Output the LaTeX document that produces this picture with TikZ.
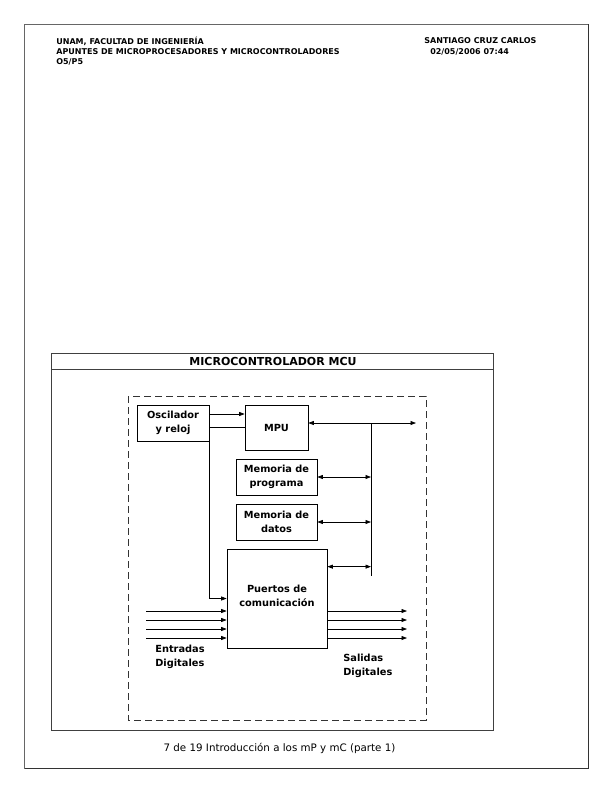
\documentclass[tikz,border=0pt]{standalone}
\usepackage{fontspec}
\setmainfont{DejaVu Sans}
\usetikzlibrary{arrows.meta}

\tikzset{
  bloque/.style={draw, inner sep=0pt, align=center,
    font=\bfseries\fontsize{9.8}{14}\selectfont},
  etiqueta/.style={inner sep=0pt, align=left,
    font=\bfseries\fontsize{9.8}{14}\selectfont},
  encabezado/.style={inner sep=0pt, anchor=west,
    font=\bfseries\fontsize{8}{10}\selectfont}
}

\begin{document}
\begin{tikzpicture}[x=1pt,y=-1pt,line width=0.7pt,
    >={Triangle[length=5.5pt,width=4pt]}]
    \useasboundingbox (0,0) rectangle (612,792);

    % marco de la pagina
    \draw[black!60] (24,24) rectangle (588,768);
    \draw[black!80, line width=1.4pt] (588.5,24.5) -- (588.5,768.5) -- (24.5,768.5);

    \node[encabezado] (unam) at (56,41) {UNAM, FACULTAD DE INGENIERÍA};
    \node[encabezado] (apuntes) at (56,52) {APUNTES DE MICROPROCESADORES Y MICROCONTROLADORES};
    \node[encabezado] (clave) at (56,62) {O5/P5};
    \node[encabezado] (autor) at (424,41) {SANTIAGO CRUZ CARLOS};
    \node[encabezado] (fecha) at (430,52) {02/05/2006 07:44};

    % marco del microcontrolador
    \draw[black!75] (51,353) rectangle (493,730);
    \draw[black!75] (51,369) -- (493,369);
    \node[font=\bfseries\fontsize{11}{13}\selectfont, inner sep=0pt] (titulo) at (273,361) {MICROCONTROLADOR MCU};
    \draw[dashed, dash pattern=on 7pt off 4pt, black!80] (128,396) rectangle (426,720);

    \node[bloque, minimum width=72, minimum height=36] (osc) at (173,423) {Oscilador\\y reloj};
    \node[bloque, minimum width=63, minimum height=45] (mpu) at (276.5,427.5) {MPU};
    \node[bloque, minimum width=81, minimum height=36] (mprog) at (276.5,477) {Memoria de\\programa};
    \node[bloque, minimum width=81, minimum height=36] (mdat) at (276.5,522) {Memoria de\\datos};
    \node[bloque, minimum width=100, minimum height=99] (puertos) at (277,598.5) {Puertos de\\comunicación\\[-8pt]};

    % reloj
    \coordinate (clk1) at ([yshift=9pt]osc.east);
    \coordinate (clk2) at ([yshift=-4pt]osc.east);
    \draw[->] (clk1) -- (clk1 -| mpu.west);
    \draw (clk2) -- (clk2 -| mpu.west);
    \draw[->] (osc.south east) |- (puertos.west);

    % bus
    \coordinate (bussup) at (371,423);
    \coordinate (businf) at (371,576);
    \coordinate (busfin) at (416,423);
    \coordinate (pbus) at ([yshift=-18pt]puertos.north east);
    \draw (bussup) -- (businf);
    \draw[<->] (mpu.east |- bussup) -- (busfin);
    \draw[<->] (mprog.east) -- (mprog.east -| bussup);
    \draw[<->] (mdat.east) -- (mdat.east -| bussup);
    \draw[<->] (pbus) -- (pbus -| bussup);

    % entradas y salidas
    \foreach \y [count=\i] in {611,620,629,638} {
      \coordinate (ent\i) at (146,\y);
      \coordinate (sal\i) at (407,\y);
      \draw[->] (ent\i) -- (puertos.west |- ent\i);
      \draw[->] (puertos.east |- sal\i) -- (sal\i);
    }
    \node[etiqueta, anchor=west] (entradas) at (155,657) {Entradas\\Digitales};
    \node[etiqueta, anchor=west] (salidas) at (343,666) {Salidas\\Digitales};

    \node[inner sep=0pt, font=\fontsize{10.3}{12}\selectfont] (pie) at (279.5,748) {7 de 19 Introducción a los mP y mC (parte 1)};
\end{tikzpicture}
\end{document}
